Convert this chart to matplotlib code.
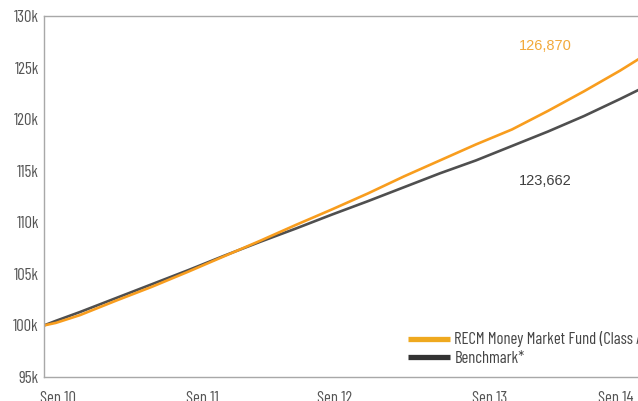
import matplotlib
matplotlib.use("Agg")
import matplotlib.pyplot as plt
from matplotlib.lines import Line2D
from matplotlib.ticker import FuncFormatter


# ---------------------------------------------------------
# data (growth of 100k, months since Sep 10)
# ---------------------------------------------------------

months = [0, 1, 3, 6, 9, 12, 15, 18, 21, 24, 27, 30, 33, 36, 39, 42, 45, 48, 51]

fund = [100.0, 100.25, 101.0, 102.4, 103.75, 105.2, 106.7, 108.2, 109.75,
        111.25, 112.8, 114.45, 116.0, 117.55, 119.0, 120.8, 122.7, 124.7,
        126.87]

benchmark = [100.0, 100.45, 101.3, 102.65, 104.0, 105.35, 106.75, 108.1,
             109.4, 110.75, 112.05, 113.4, 114.75, 116.0, 117.4, 118.8,
             120.3, 121.95, 123.662]

tick_pos = [1.2, 13.2, 24.25, 37.1, 47.6]
tick_labels = ["Sep 10", "Sep 11", "Sep 12", "Sep 13", "Sep 14"]

fund_label = "RECM Money Market Fund (Class A)"
bench_label = "Benchmark*"
fund_end = "126,870"
bench_end = "123,662"

# ---------------------------------------------------------
# styles
# ---------------------------------------------------------

ORANGE = "#F89D1E"
ORANGE_LEG = "#EFA91F"
DARK = "#4F4F4F"
DARK_LEG = "#333333"
GRID = "#A8A8A8"
TXT = "#555555"

narrow = ["Barlow Condensed", "DejaVu Sans"]

fig = plt.figure(figsize=(6.38, 4.01), dpi=100)
ax = fig.add_axes([44 / 638, 24 / 401, 1 - 44 / 638, 361 / 401])

ax.plot(months, benchmark, color=DARK, lw=1.9, solid_capstyle="butt")
ax.plot(months, fund, color=ORANGE, lw=1.9, solid_capstyle="butt")

ax.set_xlim(0, 49.5)
ax.set_ylim(95, 130)

ax.set_yticks(range(95, 131, 5))
ax.yaxis.set_major_formatter(FuncFormatter(lambda v, p: f"{int(v)}k"))
ax.set_xticks(tick_pos)
ax.set_xticklabels(tick_labels)

ax.tick_params(axis="both", length=0, labelcolor=TXT, labelsize=12)
ax.tick_params(axis="x", pad=10)
ax.tick_params(axis="y", pad=3.6)
for lab in ax.get_xticklabels() + ax.get_yticklabels():
    lab.set_family(narrow)

for side in ["left", "top", "bottom"]:
    ax.spines[side].set_color(GRID)
    ax.spines[side].set_linewidth(1.0)
ax.spines["right"].set_visible(False)

# end value labels
ax.text(41.75, 127.06, fund_end, color="#F2A93B", fontsize=10.5,
        family="Liberation Sans", ha="center", va="center")
ax.text(41.75, 113.97, bench_end, color="#3F3F3F", fontsize=10.5,
        family="Liberation Sans", ha="center", va="center")

# legend
handles = [Line2D([], [], color=ORANGE_LEG, lw=3.8, solid_capstyle="butt"),
           Line2D([], [], color=DARK_LEG, lw=3.8, solid_capstyle="butt")]
leg = ax.legend(handles, [fund_label, bench_label],
                loc="center left", bbox_to_anchor=(408 / 638, 1 - 348.5 / 401),
                bbox_transform=fig.transFigure, frameon=False, borderpad=0,
                borderaxespad=0, handlelength=2.5, handletextpad=0.28,
                labelspacing=0.2, prop={"family": narrow, "size": 12})
for t in leg.get_texts():
    t.set_color("#444444")

fig.savefig("out.png", dpi=100)
